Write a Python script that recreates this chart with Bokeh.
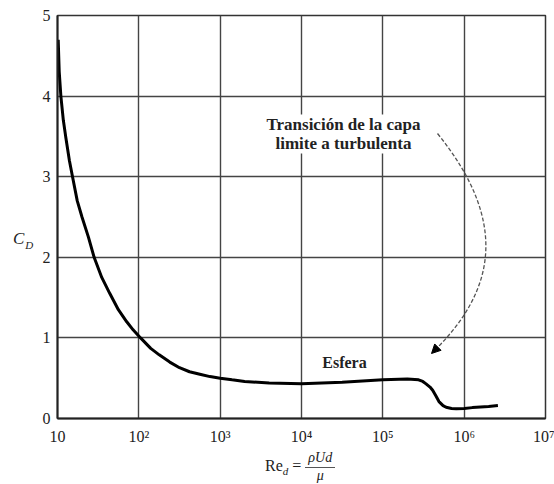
from bokeh.plotting import figure
from bokeh.models import FixedTicker, Label, Arrow, NormalHead, Div
from bokeh.layouts import row, column
from bokeh.embed import file_html
from bokeh.resources import INLINE

# Data: drag coefficient of a sphere vs Reynolds number
re_vals = [10.2, 10.5, 11.0, 11.8, 12.6, 14.0, 15.3, 17.5, 20.0, 24.0, 28.2,
           35.0, 44.0, 56.0, 71.0, 85.0, 105.0, 140.0, 178.0, 240.0, 316.0,
           420.0, 562.0, 750.0, 1000.0, 1400.0, 2000.0, 4000.0, 10000.0,
           31600.0, 100000.0, 200000.0, 275000.0, 310000.0, 340000.0, 380000.0,
           410000.0, 450000.0, 490000.0, 550000.0, 600000.0, 700000.0, 800000.0,
           1000000.0, 1260000.0, 2000000.0, 2600000.0]
cd_vals = [4.7, 4.3, 4.0, 3.7, 3.5, 3.2, 3.0, 2.7, 2.5, 2.25, 2.0,
           1.75, 1.55, 1.35, 1.2, 1.1, 1.0, 0.87, 0.79, 0.7, 0.63,
           0.58, 0.55, 0.52, 0.50, 0.48, 0.46, 0.44, 0.43,
           0.45, 0.48, 0.49, 0.48, 0.46, 0.43, 0.39,
           0.35, 0.28, 0.21, 0.16, 0.14, 0.125, 0.12,
           0.125, 0.135, 0.15, 0.16]
x_ticks = [10, 100, 1000, 10000, 100000, 1000000, 10000000]
x_tick_labels = ["10", "10²", "10³", "10⁴", "10⁵", "10⁶", "10⁷"]
y_ticks = [0, 1, 2, 3, 4, 5]

SERIF = "Liberation Serif"

# geometry (pixels) used only for layout / annotation placement
W, H = 554, 484
LEFT_W = 34          # width of the strip that holds the C_D label
FL, FR, FT, FB = 57, 545, 15, 418
FIG_H = 450          # figure height; x-axis label strip below it


def px(x):
    return 10 ** (1 + 6 * (x - FL) / (FR - FL))


def py(y):
    return 5 * (FB - y) / (FB - FT)


p = figure(width=W - LEFT_W, height=FIG_H, x_axis_type="log", x_range=(10, 1e7),
           y_range=(0, 5), output_backend="svg", toolbar_location=None,
           min_border_left=FL - LEFT_W, min_border_right=W - FR, min_border_top=FT,
           min_border_bottom=FIG_H - FB, margin=0)
p.background_fill_color = "white"
p.border_fill_color = "white"
p.outline_line_color = "#333333"
p.outline_line_width = 1.5

p.xaxis.ticker = FixedTicker(ticks=x_ticks)
p.xaxis.major_label_overrides = {t: l for t, l in zip(x_ticks, x_tick_labels)}
p.yaxis.ticker = FixedTicker(ticks=y_ticks)
for ax in (p.xaxis, p.yaxis):
    ax.major_tick_line_color = None
    ax.minor_tick_line_color = None
    ax.major_tick_out = 0
    ax.major_tick_in = 0
    ax.minor_tick_out = 0
    ax.minor_tick_in = 0
    ax.axis_line_color = "#222222"
    ax.axis_line_width = 2
    ax.major_label_text_font = SERIF
    ax.major_label_text_font_size = "16px"
    ax.major_label_text_color = "#222222"
p.xaxis.major_label_standoff = 9
p.yaxis.major_label_standoff = 7

p.xgrid.ticker = FixedTicker(ticks=x_ticks)
p.ygrid.ticker = FixedTicker(ticks=y_ticks)
for g in (p.xgrid, p.ygrid):
    g.grid_line_color = "#444444"
    g.grid_line_width = 1.4
    g.grid_line_alpha = 1.0

p.line(re_vals, cd_vals, line_color="black", line_width=3)

# annotation box with white background
p.add_layout(Label(x=px(343), y=py(114), text="Transición de la capa\nlimite a turbulenta",
                   text_align="center", text_baseline="top", text_font=SERIF,
                   text_font_size="17px", text_font_style="bold", text_color="#222222",
                   background_fill_color="white", text_line_height=1.05))

# curved dashed arrow
p.bezier(x0=[px(437)], y0=[py(133)], x1=[px(432)], y1=[py(352)],
         cx0=[px(509)], cy0=[py(222)], cx1=[px(495)], cy1=[py(291)],
         line_color="#555555", line_width=1.3, line_dash="4 2")
p.add_layout(Arrow(end=NormalHead(size=9, fill_color="black", line_color="black"),
                   x_start=px(440), y_start=py(344), x_end=px(431), y_end=py(353),
                   line_alpha=0))

p.add_layout(Label(x=px(344), y=py(362), text="Esfera", text_align="center",
                   text_baseline="middle", text_font=SERIF, text_font_size="16px",
                   text_font_style="bold", text_color="#222222"))

FONT_CSS = "font-family:'Liberation Serif',serif; color:#222222;"

# y axis label C_D (horizontal, left of the axis)
cd_div = Div(
    text=(f'<div style="{FONT_CSS} margin-top:229px; margin-left:13px; '
          'font-size:17px; font-style:italic; line-height:20px; white-space:nowrap">'
          'C<span style="font-size:11px; position:relative; top:5px; left:1px">D</span>'
          '</div>'),
    width=LEFT_W, height=H, margin=0)

# x axis label Re_d = rho U d / mu
x_div = Div(
    text=(f'<div style="{FONT_CSS} margin-left:{265 - LEFT_W}px; display:flex; '
          'align-items:center; height:34px; white-space:nowrap">'
          '<span style="font-size:16px; position:relative; top:-1px">Re'
          '<span style="font-size:11px; font-style:italic; position:relative; top:4px">d</span>'
          '&nbsp;=&nbsp;</span>'
          '<span style="display:inline-flex; flex-direction:column; align-items:center; '
          'font-style:italic; font-size:14px; line-height:14px">'
          '<span style="padding:0 3px 2px 3px">ρUd</span>'
          '<span style="border-top:1px solid #555555; align-self:stretch; '
          'text-align:center; padding-top:1px">μ</span></span>'
          '</div>'),
    width=W - LEFT_W, height=H - FIG_H, margin=0)

layout = row(cd_div, column(p, x_div, spacing=0), spacing=0)

open("out.html", "w").write(file_html(layout, INLINE))
